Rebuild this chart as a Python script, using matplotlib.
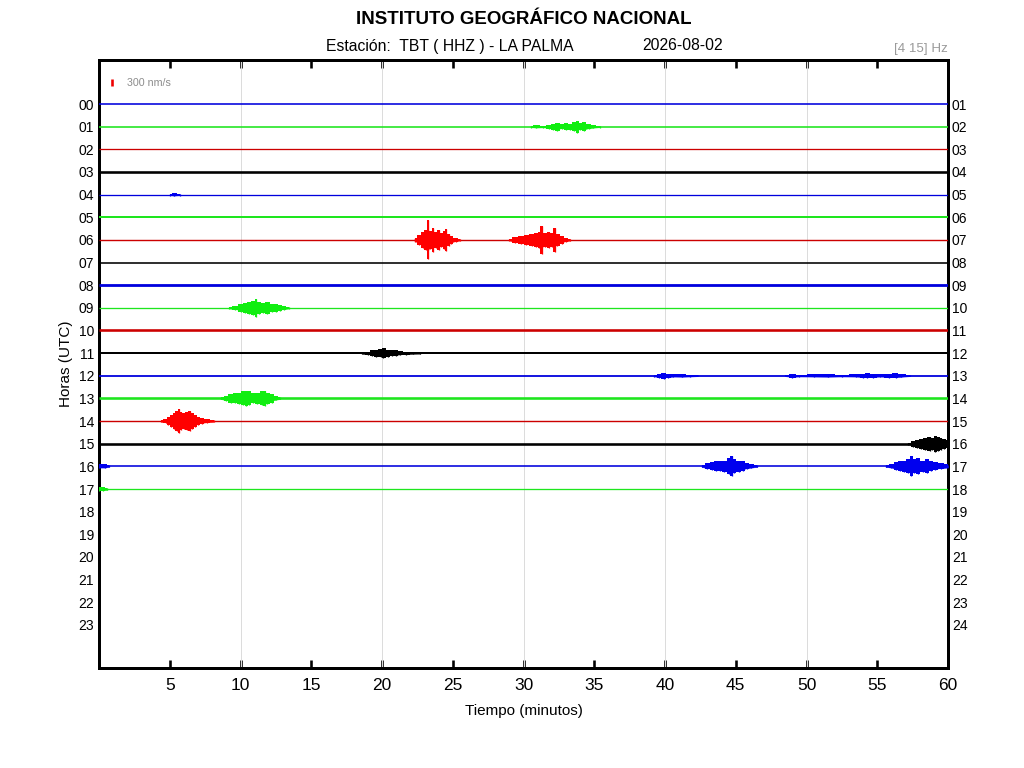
import matplotlib
matplotlib.use("Agg")
import matplotlib.pyplot as plt
import numpy as np

plt.rcParams['font.family'] = ['Liberation Sans', 'DejaVu Sans']

# ---------------- data ----------------
hours_left = ['%02d' % h for h in range(24)]
hours_right = ['%02d' % h for h in range(1, 25)]
x_tick_minutes = [5, 10, 15, 20, 25, 30, 35, 40, 45, 50, 55, 60]
grid_minutes = [10, 20, 30, 40, 50]
trace_rows = list(range(18))           # hours with data (00..17)
trace_start = [0.0] * 18
trace_end = [60.0] * 18
# visual thickness of background noise per row (pixels)
trace_noise_px = [1.6, 1.6, 1.3, 2.6, 1.3, 2.0, 1.4, 1.6, 2.8, 1.3,
                  2.6, 2.0, 1.8, 2.6, 1.4, 2.6, 1.6, 1.3]
row_colors = ['#0000dd', '#1ee61e', '#cc0000', '#000000']
burst_colors = ['#0000ee', '#11ee11', '#ff0000', '#000000']
scale_nms = 300          # scale bar amplitude (nm/s)
nms_per_row = 1000       # trace gain: nm/s per row spacing

# events: (row, minutes, amplitude in nm/s)
ev01_row = 1
ev01_t = [30.5, 30.9, 31.4, 31.8, 32.1, 32.4, 32.7, 33.0, 33.3, 33.6, 33.8, 34.0, 34.3, 34.6, 34.9, 35.4]
ev01_a = [40, 70, 50, 90, 130, 170, 120, 150, 130, 200, 270, 160, 200, 120, 80, 40]

ev04_row = 4
ev04_t = [5.0, 5.3, 5.7]
ev04_a = [40, 70, 40]

ev06a_row = 6
ev06a_t = [22.3, 22.6, 22.9, 23.1, 23.25, 23.4, 23.6, 23.8, 24.0, 24.2, 24.4, 24.5, 24.7, 24.9, 25.2, 25.5]
ev06a_a = [90, 220, 350, 440, 860, 400, 530, 350, 440, 310, 400, 480, 260, 180, 90, 45]

ev06b_row = 6
ev06b_t = [29.0, 29.4, 29.8, 30.2, 30.6, 30.9, 31.1, 31.3, 31.5, 31.8, 32.0, 32.2, 32.4, 32.7, 33.0, 33.3]
ev06b_a = [45, 130, 180, 220, 260, 310, 350, 610, 310, 350, 310, 530, 260, 180, 90, 45]

ev09_row = 9
ev09_t = [9.2, 9.6, 10.0, 10.3, 10.6, 10.9, 11.1, 11.3, 11.6, 11.9, 12.2, 12.5, 12.8, 13.1, 13.4]
ev09_a = [45, 90, 180, 220, 260, 310, 400, 260, 220, 260, 180, 180, 130, 90, 45]

ev11_row = 11
ev11_t = [18.6, 19.0, 19.3, 19.6, 19.9, 20.1, 20.4, 20.7, 21.0, 21.3, 21.7, 22.2, 22.7]
ev11_a = [45, 65, 130, 150, 180, 220, 150, 130, 130, 90, 65, 45, 35]

ev12a_row = 12
ev12a_t = [39.2, 39.6, 39.9, 40.2, 40.6, 41.2, 41.8, 42.3]
ev12a_a = [40, 100, 140, 90, 60, 70, 50, 30]

ev12b_row = 12
ev12b_t = [48.5, 49.0, 49.5, 50.5, 51.5, 52.5, 53.5, 54.0, 54.3, 54.7, 55.2, 55.8, 56.3, 56.7, 57.3]
ev12b_a = [30, 80, 50, 60, 70, 50, 60, 90, 110, 80, 60, 80, 110, 70, 30]

ev13_row = 13
ev13_t = [8.6, 9.0, 9.3, 9.6, 9.9, 10.2, 10.4, 10.6, 10.9, 11.2, 11.5, 11.7, 11.9, 12.2, 12.5, 12.8]
ev13_a = [45, 130, 180, 220, 260, 310, 350, 310, 220, 260, 310, 350, 260, 180, 90, 45]

ev14_row = 14
ev14_t = [4.4, 4.7, 4.9, 5.1, 5.3, 5.5, 5.65, 5.8, 6.0, 6.2, 6.4, 6.6, 6.8, 7.0, 7.3, 7.6, 8.1]
ev14_a = [45, 90, 180, 260, 350, 440, 530, 400, 350, 400, 440, 350, 260, 180, 130, 90, 45]

ev15_row = 15
ev15_t = [57.2, 57.5, 57.8, 58.1, 58.4, 58.7, 58.9, 59.1, 59.3, 59.5, 59.7, 60.0]
ev15_a = [45, 130, 180, 220, 260, 310, 260, 350, 310, 260, 220, 180]

ev16a_row = 16
ev16a_t = [0.0, 0.4, 0.7]
ev16a_a = [90, 90, 40]

ev16b_row = 16
ev16b_t = [42.6, 43.0, 43.3, 43.6, 43.9, 44.2, 44.5, 44.7, 44.9, 45.2, 45.5, 45.8, 46.1, 46.5]
ev16b_a = [45, 130, 180, 220, 220, 260, 350, 440, 310, 260, 220, 130, 90, 45]

ev16c_row = 16
ev16c_t = [55.6, 56.0, 56.3, 56.6, 56.9, 57.2, 57.4, 57.6, 57.9, 58.2, 58.5, 58.8, 59.1, 59.5, 60.0]
ev16c_a = [45, 90, 180, 220, 260, 310, 440, 310, 350, 260, 310, 220, 180, 130, 90]

ev17_row = 17
ev17_t = [0.0, 0.3, 0.6]
ev17_a = [90, 90, 40]

events = [
    (ev01_row, ev01_t, ev01_a), (ev04_row, ev04_t, ev04_a),
    (ev06a_row, ev06a_t, ev06a_a), (ev06b_row, ev06b_t, ev06b_a),
    (ev09_row, ev09_t, ev09_a), (ev11_row, ev11_t, ev11_a),
    (ev12a_row, ev12a_t, ev12a_a), (ev12b_row, ev12b_t, ev12b_a),
    (ev13_row, ev13_t, ev13_a), (ev14_row, ev14_t, ev14_a),
    (ev15_row, ev15_t, ev15_a), (ev16a_row, ev16a_t, ev16a_a),
    (ev16b_row, ev16b_t, ev16b_a), (ev16c_row, ev16c_t, ev16c_a),
    (ev17_row, ev17_t, ev17_a),
]

# ---------------- figure ----------------
DPI = 100
fig = plt.figure(figsize=(10.24, 7.68), dpi=DPI)
ax = fig.add_axes([99 / 1024, 1 - 668 / 768, (948 - 99) / 1024, (668 - 60) / 768])
px = 72.0 / DPI  # points per pixel

row_px = 22.65
ax.set_xlim(0, 60)
ax.set_ylim((668 - 104) / row_px, (60 - 104) / row_px)
ax.set_axisbelow(True)

for m in grid_minutes:
    ax.axvline(m, color='#dcdcdc', lw=1.0 * px, zorder=1)

for r, t0, t1, w in zip(trace_rows, trace_start, trace_end, trace_noise_px):
    c = row_colors[r % 4]
    ax.plot([t0, t1], [r, r], color=c, lw=w * px, zorder=3, solid_capstyle='butt')

for r, t, a in events:
    c = burst_colors[r % 4]
    t = np.asarray(t, float)
    a = np.asarray(a, float) / nms_per_row
    ax.fill_between(t, r - 0.55 * a, r + 0.55 * a, color=c, lw=0.6 * px, zorder=4)
    ax.fill_between(t, r - a, r + a, color=c, lw=0, step='mid', zorder=4)
    ax.vlines(t, r - a, r + a, color=c, lw=1.3 * px, zorder=4)

# scale bar
sb_x = 0.95
sb_y = (82.5 - 104) / row_px
ax.vlines([sb_x], sb_y - scale_nms / nms_per_row / 2, sb_y + scale_nms / nms_per_row / 2,
          color='#ee0000', lw=2.6 * px, zorder=5)
ax.text(1.95, sb_y, '%d nm/s' % scale_nms, fontsize=7.7, color='#8c8c8c', va='center', ha='left')

# axes styling
for s in ax.spines.values():
    s.set_linewidth(3 * px)
ax.set_xticks(x_tick_minutes)
ax.set_xticklabels([str(m) for m in x_tick_minutes])
ax.tick_params(axis='x', direction='in', length=8 * px, width=2.6 * px, top=True,
               labelsize=12.5, pad=10 * px)
ax.set_yticks(range(24))
ax.set_yticklabels(hours_left)
ax.tick_params(axis='y', length=0, labelsize=10, pad=5 * px)

ax2 = ax.twinx()
ax2.set_ylim(ax.get_ylim())
ax2.set_yticks(range(24))
ax2.set_yticklabels(hours_right)
ax2.tick_params(axis='y', length=0, labelsize=10, pad=4 * px)
for s in ax2.spines.values():
    s.set_visible(False)

ax.set_xlabel('Tiempo (minutos)', fontsize=11, labelpad=8)
ax.set_ylabel('Horas (UTC)', fontsize=11, labelpad=4)

fig.text(523.5 / 1024, 1 - 19 / 768, 'INSTITUTO GEOGRÁFICO NACIONAL', fontsize=13.5,
         fontweight='bold', ha='center', va='center')
fig.text(326 / 1024, 1 - 46 / 768, 'Estación:  TBT ( HHZ ) - LA PALMA', fontsize=11.3,
         ha='left', va='center')
fig.text(642 / 1024, 1 - 46 / 768, '2026-08-02', fontsize=11.3, ha='left', va='center')
fig.text(948 / 1024, 1 - 49 / 768, '[4 15] Hz', fontsize=9.6, color='#9a9a9a',
         ha='right', va='center')

fig.savefig('out.png', dpi=DPI)
